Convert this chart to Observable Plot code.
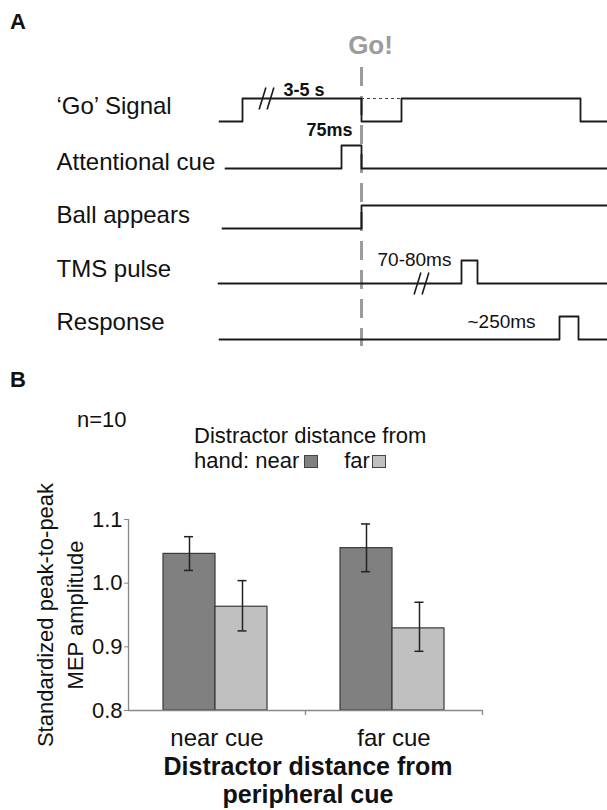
<!DOCTYPE html>
<html><head><meta charset="utf-8">
<script src="https://cdn.jsdelivr.net/npm/d3@7"></script>
<script src="https://cdn.jsdelivr.net/npm/@observablehq/plot@0.6"></script>
<style>
html,body{margin:0;padding:0;background:#fff;}
#page{position:relative;width:607px;height:810px;overflow:hidden;font-family:"Liberation Sans",Arial,Helvetica,sans-serif;color:#111;background:#fff;}
.abs{position:absolute;white-space:nowrap;}
#panelA{position:absolute;left:0;top:0;}
#panelB{position:absolute;left:0;top:475px;}
#panelB g[aria-label^="x-axis"] text{font-size:24px;}
#panelB g[aria-label^="y-axis"] line,#panelB g[aria-label^="y-axis"] path{stroke:#888;}
.sw{display:inline-block;width:12px;height:11px;border:1px solid #444;vertical-align:baseline;}
</style></head>
<body><div id="page">
<div id="panelA"></div>
<div id="panelB"></div>
<div class="abs" style="left:10px;top:11px;font-size:22px;line-height:22px;font-weight:bold;">A</div>
<div class="abs" style="left:10px;top:369px;font-size:22px;line-height:22px;font-weight:bold;">B</div>
<div class="abs" id="nlabel" style="left:77px;top:409px;font-size:22px;line-height:22px;"></div>
<div class="abs" id="legend" style="left:194px;top:423px;font-size:22px;line-height:25px;"></div>
<div class="abs" id="caption" style="left:128px;width:360px;top:752px;font-size:25px;line-height:28px;font-weight:bold;text-align:center;"></div>
</div>
<script>
// ---------- Panel A data (schematic time units) ----------
const signalNames = ["\u2018Go\u2019 Signal", "Attentional cue", "Ball appears", "TMS pulse", "Response"];
const goSignal       = [[219,0],[242,1],[361,0],[401,1],[580,0],[607,0]];
const attentionalCue = [[225,0],[341,1],[361,0],[607,0]];
const ballAppears    = [[222,0],[361,1],[607,1]];
const tmsPulse       = [[218,0],[461,1],[477,0],[607,0]];
const responseSignal = [[219,0],[559,1],[578,0],[607,0]];
const signals = [goSignal, attentionalCue, ballAppears, tmsPulse, responseSignal];
const goTime = 361;
const goLabel = "Go!";
const goGap = [361, 401];
const breakRows = [0, 3];
const breakTimes = [266, 421];
const breakLevels = [1, 0];
const annotationText = ["3-5 s", "75ms", "70-80ms", "~250ms"];
const annotationTime = [283, 306, 377, 467];
const annotationRow = [0, 0, 3, 4];

// ---------- Panel B data ----------
const nLabel = "n=10";
const cues = ["near cue", "far cue"];
const distractors = ["near", "far"];
const meanNear = [1.046, 1.055];
const meanFar = [0.963, 0.929];
const errNearLow = [1.020, 1.018];
const errNearHigh = [1.073, 1.093];
const errFarLow = [0.925, 0.893];
const errFarHigh = [1.004, 0.970];
const yTicks = [0.8, 0.9, 1.0, 1.1];
const yTitle = "Standardized peak-to-peak\nMEP amplitude";
const legendTitle = "Distractor distance from";
const legendPrefix = "hand:";
const xTitle = ["Distractor distance from", "peripheral cue"];

// ---------- layout / style ----------
const FONT = '"Liberation Sans", Arial, Helvetica, sans-serif';
const A = {width: 607, height: 375, row0Px: 121, rowPx: 54.5, pulsePx: 23, labelX: 56,
  rowShiftPx: [0, -7.5, -2, -1.5, 0],
  labelLift: [0.67, 0.29, 0.56, 0.63, 0.74],
  annotationLift: [1.13, -0.61, 0.78, 0.52],
  annotationBold: [true, true, false, false],
  annotationSize: [18, 18, 19, 19],
  dashTopPx: 67, dashBottomPx: 346, goLabelPx: 53, lineColor: "#1a1a1a"};
const vOf = px => (px - A.row0Px) / A.rowPx;
const ph = A.pulsePx / A.rowPx;
const rowY = i => i + A.rowShiftPx[i] / A.rowPx;

const wavePoints = signals.flatMap((s, row) => s.map(([t, level]) => ({row, t, y: rowY(row) - level * ph})));
const slashes = breakTimes.flatMap((t, i) => [-4, 4].map(k => {
  const yb = rowY(breakRows[i]) - breakLevels[i] * ph;
  return {x1: t + k - 3.4, x2: t + k + 3.4, y1: yb + 0.2, y2: yb - 0.2};
}));
const annIdx = annotationText.map((d, i) => i);

const plotA = Plot.plot({
  width: A.width, height: A.height, margin: 0,
  style: {fontFamily: FONT, fontSize: "24px", color: "#111", background: "white"},
  x: {domain: [0, A.width], axis: null},
  y: {domain: [vOf(0), vOf(A.height)], range: [0, A.height], axis: null},
  marks: [
    Plot.ruleX([goTime], {x: d => d, y1: vOf(A.dashTopPx), y2: vOf(A.dashBottomPx),
      stroke: "#9c9c9c", strokeWidth: 3, strokeDasharray: "19,10"}),
    Plot.ruleY([0], {y: d => rowY(d) - ph, x1: goGap[0], x2: goGap[1], stroke: "#444", strokeWidth: 1, strokeDasharray: "3,3"}),
    Plot.line(wavePoints, {x: "t", y: "y", z: "row", curve: "step-after", stroke: A.lineColor, strokeWidth: 1.8}),
    Plot.link(slashes, {x1: "x1", y1: "y1", x2: "x2", y2: "y2", stroke: A.lineColor, strokeWidth: 1.6}),
    Plot.text(signalNames, {text: d => d, x: () => A.labelX, y: (d, i) => rowY(i) - A.labelLift[i] * ph,
      textAnchor: "start", fontSize: 24, fill: "#111"}),
    Plot.text(annIdx.filter(i => A.annotationBold[i]), {text: i => annotationText[i], x: i => annotationTime[i],
      y: i => rowY(annotationRow[i]) - A.annotationLift[i] * ph, textAnchor: "start", lineAnchor: "bottom",
      fontSize: i => A.annotationSize[i], fontWeight: "bold", fill: "#111"}),
    Plot.text(annIdx.filter(i => !A.annotationBold[i]), {text: i => annotationText[i], x: i => annotationTime[i],
      y: i => rowY(annotationRow[i]) - A.annotationLift[i] * ph, textAnchor: "start", lineAnchor: "bottom",
      fontSize: i => A.annotationSize[i], fill: "#111"}),
    Plot.text([goLabel], {text: d => d, x: () => goTime, y: () => vOf(A.goLabelPx), dx: 9,
      lineAnchor: "bottom", fontSize: 26, fontWeight: "bold", fill: "#9c9c9c"})
  ]
});
document.getElementById("panelA").appendChild(plotA);

// ---------- Panel B ----------
const barData = cues.flatMap((c, i) => [
  {cue: c, dist: distractors[0], mean: meanNear[i], lo: errNearLow[i], hi: errNearHigh[i]},
  {cue: c, dist: distractors[1], mean: meanFar[i], lo: errFarLow[i], hi: errFarHigh[i]}
]);
const B = {width: 607, height: 277, mt: 44, mb: 42, ml: 128, mr: 125,
  fills: {near: "#808080", far: "#c0c0c0"}, barStroke: "#3a3a3a", axisColor: "#888",
  inset: {near: [35, 90], far: [87, 38]}, errDx: {near: -27.5, far: 25.5},
  cap: {near: [56, 112], far: [109.5, 58.5]}};
const half = (B.width - B.ml - B.mr) / cues.length / 2;
const base = yTicks[0];

const barMarks = distractors.flatMap(dist => {
  const data = barData.filter(d => d.dist === dist);
  return [
    Plot.barY(data, {x: "cue", y1: () => base, y2: "mean", fill: B.fills[dist], stroke: B.barStroke, strokeWidth: 1.2,
      insetLeft: B.inset[dist][0], insetRight: B.inset[dist][1]}),
    Plot.ruleX(data, {x: "cue", y1: "lo", y2: "hi", dx: B.errDx[dist], stroke: "#222", strokeWidth: 1.5}),
    Plot.tickY(data, {x: "cue", y: "lo", insetLeft: B.cap[dist][0], insetRight: B.cap[dist][1], stroke: "#222", strokeWidth: 1.5}),
    Plot.tickY(data, {x: "cue", y: "hi", insetLeft: B.cap[dist][0], insetRight: B.cap[dist][1], stroke: "#222", strokeWidth: 1.5})
  ];
});

const plotB = Plot.plot({
  width: B.width, height: B.height, marginTop: B.mt, marginBottom: B.mb, marginLeft: B.ml, marginRight: B.mr,
  style: {fontFamily: FONT, fontSize: "22px", color: "#111", background: "white", overflow: "visible"},
  x: {domain: cues, padding: 0, tickSize: 0, tickPadding: 18, label: null},
  y: {domain: [yTicks[0], yTicks[yTicks.length - 1]], ticks: yTicks, tickFormat: d3.format(".1f"),
    tickSize: 4, tickPadding: 2, label: null},
  marks: [
    ...barMarks,
    Plot.ruleY([base], {y: d => d, stroke: B.axisColor, strokeWidth: 1.3}),
    Plot.ruleX([cues[0]], {x: d => d, y1: () => base, y2: () => yTicks[yTicks.length - 1], dx: -half, stroke: B.axisColor, strokeWidth: 1.3}),
    Plot.ruleX(cues, {x: d => d, y1: () => base, y2: () => base - 0.008, dx: half, stroke: B.axisColor, strokeWidth: 1.3}),
    Plot.text([yTitle], {text: d => d, frameAnchor: "left", dx: -70, rotate: -90, textAnchor: "middle",
      lineHeight: 1.36, fontSize: 22, fill: "#111"})
  ]
});
document.getElementById("panelB").appendChild(plotB);

// ---------- HTML texts & legend ----------
document.getElementById("nlabel").textContent = nLabel;
const legend = document.getElementById("legend");
legend.appendChild(document.createTextNode(legendTitle));
legend.appendChild(document.createElement("br"));
legend.appendChild(document.createTextNode(legendPrefix + " "));
distractors.forEach((d, i) => {
  const lab = document.createElement("span");
  lab.textContent = d;
  if (i > 0) lab.style.marginLeft = "26px";
  legend.appendChild(lab);
  const sw = document.createElement("span");
  sw.className = "sw";
  sw.style.background = B.fills[d];
  sw.style.marginLeft = i === 0 ? "5px" : "2px";
  legend.appendChild(sw);
});
const cap = document.getElementById("caption");
xTitle.forEach((t, i) => { if (i) cap.appendChild(document.createElement("br")); cap.appendChild(document.createTextNode(t)); });
</script>
</body></html>
